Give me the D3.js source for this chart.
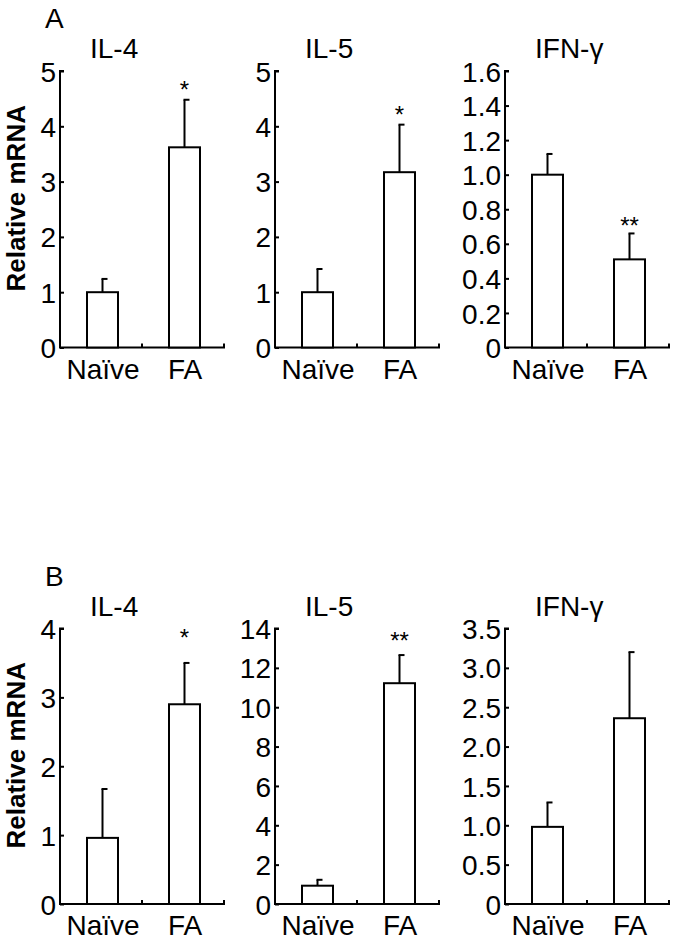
<!DOCTYPE html>
<html><head><meta charset="utf-8">
<script src="https://cdn.jsdelivr.net/npm/d3@7"></script>
<style>
body{margin:0;background:#fff}
svg text{font-family:"Liberation Sans",Arial,Helvetica,sans-serif;fill:#000}
</style>
</head><body>
<svg id="chart" width="677" height="942"></svg>
<script>
// ---------- data ----------
const categories = ["Naïve", "FA"];
const genes = ["IL-4", "IL-5", "IFN-γ"];
const panelLetters = ["A", "B"];
const yLabel = "Relative mRNA";

// Panel A
const meansA   = [[1.00, 3.62], [1.00, 3.17], [1.00, 0.51]];
const errTopA  = [[1.24, 4.48], [1.42, 4.03], [1.12, 0.66]];
const sigA     = ["*", "*", "**"];
const sigPosA  = [4.75, 4.30, 0.73];
const ticksA   = [[0,1,2,3,4,5], [0,1,2,3,4,5], [0,0.2,0.4,0.6,0.8,1.0,1.2,1.4,1.6]];
const tickLabA = [["0","1","2","3","4","5"], ["0","1","2","3","4","5"],
                  ["0","0.2","0.4","0.6","0.8","1.0","1.2","1.4","1.6"]];

// Panel B
const meansB   = [[0.96, 2.90], [0.93, 11.22], [0.98, 2.36]];
const errTopB  = [[1.67, 3.50], [1.23, 12.65], [1.29, 3.20]];
const sigB     = ["*", "**", ""];
const sigPosB  = [3.94, 13.6, 0];
const ticksB   = [[0,1,2,3,4], [0,2,4,6,8,10,12,14], [0,0.5,1.0,1.5,2.0,2.5,3.0,3.5]];
const tickLabB = [["0","1","2","3","4"], ["0","2","4","6","8","10","12","14"],
                  ["0","0.5","1.0","1.5","2.0","2.5","3.0","3.5"]];

// ---------- layout ----------
const svg = d3.select("#chart");
const axisLeft = [60, 275, 505];
const axisW = 164;
const rows = [
  {top: 71, bottom: 347.5, means: meansA, err: errTopA, sig: sigA, sigPos: sigPosA, ticks: ticksA, labs: tickLabA, letter: panelLetters[0]},
  {top: 628.5, bottom: 904, means: meansB, err: errTopB, sig: sigB, sigPos: sigPosB, ticks: ticksB, labs: tickLabB, letter: panelLetters[1]}
];
const barW = 31;
const sw = 2;
const fs = 28;

rows.forEach((row) => {
  // panel letter
  svg.append("text").attr("x", 45).attr("y", row.top - 43)
     .attr("font-size", fs).text(row.letter);
  // y label
  const cy = (row.top + row.bottom) / 2 - 11;
  svg.append("text")
     .attr("transform", `translate(25,${cy}) rotate(-90)`)
     .attr("text-anchor", "middle").attr("font-size", 26).attr("font-weight", "bold")
     .text(yLabel);

  genes.forEach((g, gi) => {
    const x0 = axisLeft[gi];
    const ticks = row.ticks[gi];
    const yMax = ticks[ticks.length - 1];
    const y = d3.scaleLinear().domain([0, yMax]).range([row.bottom, row.top]);
    const x = d3.scaleBand().domain(categories).range([x0, x0 + axisW]);
    const gP = svg.append("g");

    // title
    gP.append("text").attr("x", x0 + 30).attr("y", row.top - 13)
      .attr("font-size", fs).text(g);

    // y axis
    const ya = d3.axisRight(y).tickValues(ticks).tickSize(4)
      .tickFormat((d, i) => row.labs[gi][i]);
    const yg = gP.append("g").attr("transform", `translate(${x0},0)`).call(ya);
    yg.select(".domain").attr("stroke", "#000").attr("stroke-width", sw)
      .attr("d", `M4,${row.top}H0V${row.bottom}`);
    yg.selectAll(".tick line").attr("stroke", "#000").attr("stroke-width", sw);
    yg.selectAll(".tick text").attr("x", -4).attr("text-anchor", "end")
      .attr("font-size", fs).attr("dy", "0.36em")
      .style("font-family", '"Liberation Sans",Arial,sans-serif');

    // x axis
    gP.append("line").attr("x1", x0).attr("x2", x0 + axisW)
      .attr("y1", row.bottom).attr("y2", row.bottom)
      .attr("stroke", "#000").attr("stroke-width", sw).attr("stroke-linecap", "square");
    categories.forEach((c) => {
      const bx = x(c) + x.bandwidth();
      gP.append("line").attr("x1", bx).attr("x2", bx)
        .attr("y1", row.bottom).attr("y2", row.bottom - 4)
        .attr("stroke", "#000").attr("stroke-width", sw);
      gP.append("text").attr("x", x(c) + x.bandwidth() / 2 + 2).attr("y", row.bottom + 31)
        .attr("text-anchor", "middle").attr("font-size", fs).text(c);
    });

    // bars + error bars
    categories.forEach((c, ci) => {
      const cx = x(c) + x.bandwidth() / 2 + 1.5;
      const v = row.means[gi][ci];
      const e = row.err[gi][ci];
      gP.append("line").attr("x1", cx).attr("x2", cx)
        .attr("y1", y(v)).attr("y2", y(e))
        .attr("stroke", "#000").attr("stroke-width", sw);
      gP.append("line").attr("x1", cx - 1).attr("x2", cx + 5)
        .attr("y1", y(e)).attr("y2", y(e))
        .attr("stroke", "#000").attr("stroke-width", sw);
      gP.append("rect").attr("x", cx - barW / 2).attr("y", y(v))
        .attr("width", barW).attr("height", y(0) - y(v))
        .attr("fill", "#fff").attr("stroke", "#000").attr("stroke-width", sw);
    });

    // significance
    if (row.sig[gi]) {
      const cx = x("FA") + x.bandwidth() / 2 + 1.5;
      gP.append("text").attr("x", cx).attr("y", y(row.sigPos[gi]) + 13)
        .attr("text-anchor", "middle").attr("font-size", 24).text(row.sig[gi]);
    }
  });
});
</script>
</body></html>
